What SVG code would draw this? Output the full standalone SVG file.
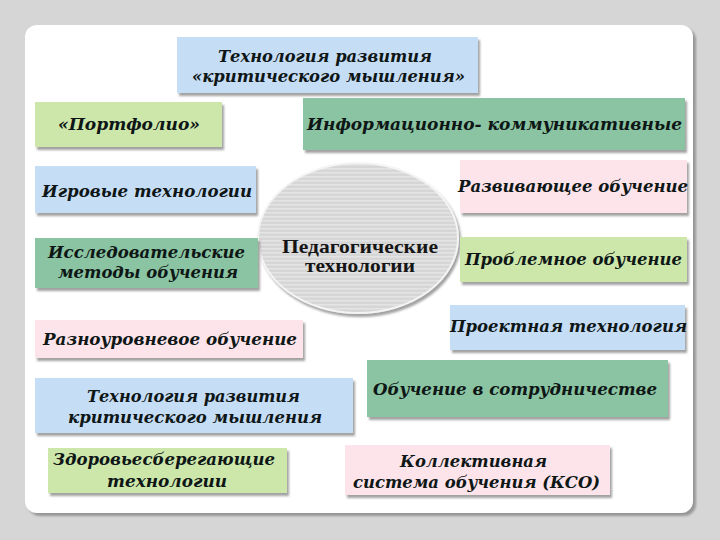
<svg xmlns="http://www.w3.org/2000/svg" width="720" height="540" viewBox="0 0 720 540">
<style>
.t{font-family:'DejaVu Serif','Liberation Serif',serif;font-weight:bold;font-style:italic;font-size:16.5px;fill:#0e1616}
.c{font-family:'Liberation Serif',serif;font-weight:bold;font-size:19px;fill:#151515}
.blue{fill:#c6ddf6}
.lg{fill:#cde7ab}
.dg{fill:#8ac4a2}
.pink{fill:#fce4ea}
.box{filter:url(#sh)}
</style>
<defs>
<filter id="sh" x="-5%" y="-10%" width="112%" height="130%">
<feDropShadow dx="2" dy="3" stdDeviation="1.2" flood-color="#555" flood-opacity="0.55"/>
</filter>
<filter id="csh" x="-5%" y="-5%" width="112%" height="112%">
<feDropShadow dx="3" dy="3" stdDeviation="1" flood-color="#888" flood-opacity="0.8"/>
</filter>
<pattern id="stripes" width="8" height="4" patternUnits="userSpaceOnUse">
<rect width="8" height="4" fill="#d6d6d6"/>
<rect width="8" height="1.5" fill="#e4e4e4"/>
</pattern>
</defs>
<rect width="720" height="540" fill="#d6d6d6"/>
<rect x="25" y="25" width="668" height="488" rx="12" fill="#ffffff" filter="url(#csh)"/>
<g id="connectors"></g>
<g id="center">
<ellipse cx="358" cy="238" rx="100" ry="75" fill="url(#stripes)" stroke="#f4f4f4" stroke-width="2" filter="url(#sh)"/>
<text class="c" x="282" y="253" textLength="156" lengthAdjust="spacingAndGlyphs">Педагогические</text>
<text class="c" x="305" y="272" textLength="110" lengthAdjust="spacingAndGlyphs">технологии</text>
</g>
<g id="n1">
<rect class="box blue" x="177" y="37" width="301" height="56"/>
<text class="t" x="218" y="62" textLength="214" lengthAdjust="spacingAndGlyphs">Технология развития</text>
<text class="t" x="192" y="82" textLength="273" lengthAdjust="spacingAndGlyphs">«критического мышления»</text>
</g>
<g id="n2">
<rect class="box lg" x="35" y="102" width="187" height="45"/>
<text class="t" x="58" y="130" textLength="142" lengthAdjust="spacingAndGlyphs">«Портфолио»</text>
</g>
<g id="n3">
<rect class="box dg" x="303" y="98" width="382" height="52"/>
<text class="t" x="307" y="130" textLength="375" lengthAdjust="spacingAndGlyphs">Информационно- коммуникативные</text>
</g>
<g id="n4">
<rect class="box blue" x="35" y="166" width="221" height="47"/>
<text class="t" x="42" y="197" textLength="210" lengthAdjust="spacingAndGlyphs">Игровые технологии</text>
</g>
<g id="n5">
<rect class="box pink" x="460" y="160" width="227" height="53"/>
<text class="t" x="458" y="192" textLength="230" lengthAdjust="spacingAndGlyphs">Развивающее обучение</text>
</g>
<g id="n6">
<rect class="box dg" x="35" y="238" width="223" height="50"/>
<text class="t" x="48" y="258" textLength="197" lengthAdjust="spacingAndGlyphs">Исследовательские</text>
<text class="t" x="58" y="278" textLength="180" lengthAdjust="spacingAndGlyphs">методы обучения</text>
</g>
<g id="n7">
<rect class="box lg" x="460" y="237" width="227" height="45"/>
<text class="t" x="465" y="265" textLength="217" lengthAdjust="spacingAndGlyphs">Проблемное обучение</text>
</g>
<g id="n8">
<rect class="box pink" x="35" y="320" width="268" height="38"/>
<text class="t" x="43" y="345" textLength="254" lengthAdjust="spacingAndGlyphs">Разноуровневое обучение</text>
</g>
<g id="n9">
<rect class="box blue" x="450" y="305" width="235" height="45"/>
<text class="t" x="450" y="332" textLength="237" lengthAdjust="spacingAndGlyphs">Проектная технология</text>
</g>
<g id="n10">
<rect class="box dg" x="367" y="360" width="301" height="57"/>
<text class="t" x="373" y="395" textLength="284" lengthAdjust="spacingAndGlyphs">Обучение в сотрудничестве</text>
</g>
<g id="n11">
<rect class="box blue" x="35" y="378" width="318" height="55"/>
<text class="t" x="87" y="402" textLength="213" lengthAdjust="spacingAndGlyphs">Технология развития</text>
<text class="t" x="68" y="423" textLength="254" lengthAdjust="spacingAndGlyphs">критического мышления</text>
</g>
<g id="n12">
<rect class="box lg" x="48" y="448" width="239" height="45"/>
<text class="t" x="53" y="465" textLength="222" lengthAdjust="spacingAndGlyphs">Здоровьесберегающие</text>
<text class="t" x="107" y="487" textLength="120" lengthAdjust="spacingAndGlyphs">технологии</text>
</g>
<g id="n13">
<rect class="box pink" x="345" y="445" width="265" height="50"/>
<text class="t" x="400" y="467" textLength="147" lengthAdjust="spacingAndGlyphs">Коллективная</text>
<text class="t" x="353" y="488" textLength="247" lengthAdjust="spacingAndGlyphs">система обучения (КСО)</text>
</g>
</svg>
